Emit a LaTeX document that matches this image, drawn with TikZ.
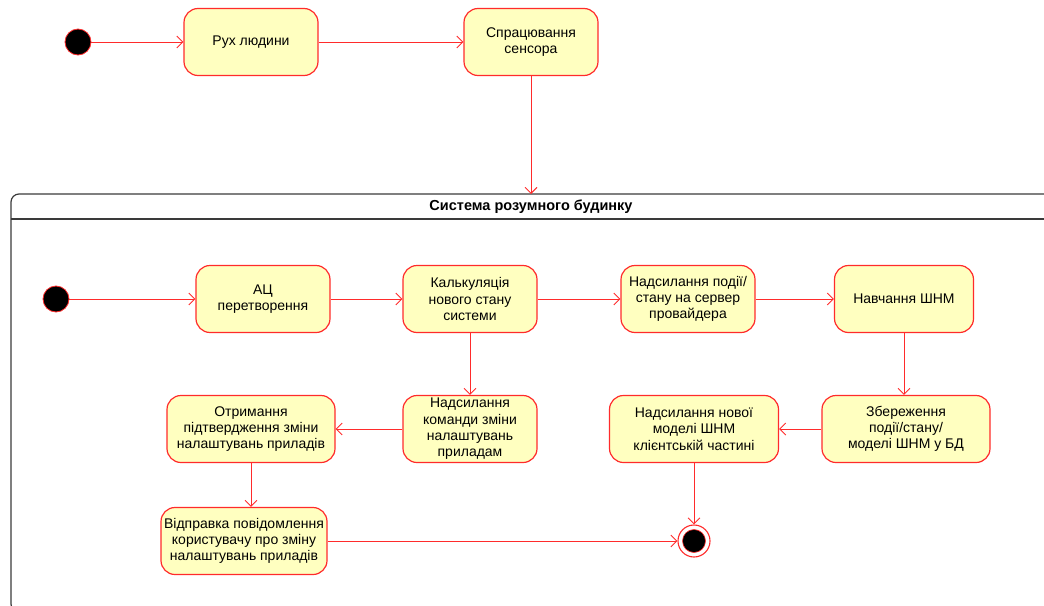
\documentclass[tikz,border=0pt]{standalone}
\usepackage{fontspec}
\setmainfont{Liberation Sans}
\usetikzlibrary{arrows.meta,positioning}
\definecolor{edge}{HTML}{FF2B2B}
\definecolor{paper}{HTML}{FFFFC0}
\definecolor{frame}{HTML}{3A3A3A}

\begin{document}
\begin{tikzpicture}[x=1pt, y=-1pt, >={Straight Barb[length=6pt,width=12pt]},
    font=\fontsize{14}{16.3}\selectfont,
    act/.style={draw=edge, fill=paper, line width=1.2pt, rounded corners=14pt,
      minimum width=134pt, minimum height=67pt, align=center, inner sep=1pt},
    wide/.style={act, minimum width=168pt},
    init/.style={circle, fill=black, draw=edge, line width=0.8pt, minimum size=26pt, inner sep=0pt},
    final/.style={circle, draw=edge, fill=white, line width=1.1pt, minimum size=32pt, inner sep=0pt},
    flow/.style={->, draw=edge, line width=0.9pt}]
  \useasboundingbox (0,0) rectangle (1044,605);
  \begin{scope}
    \clip (0,0) rectangle (1044,605);
    % outer frame of the system
    \draw[frame, line width=1.2pt, rounded corners=8pt] (11,194) rectangle (1070,612);
    \draw[frame, line width=1.2pt] (11,219) -- (1044,219);
  \end{scope}
  \node[font=\fontsize{14.5}{16}\selectfont\bfseries] (title) at (531,207) {Система розумного будинку};
  \coordinate (sys) at (531,194);

  % top row
  \node[init] (s1) at (78,42) {};
  \node[act] (move) at (251,42) {Рух людини};
  \node[act] (sens) at (531,42) {Спрацювання\\сенсора};

  % inside the system
  \node[init] (s2) at (56,299) {};
  \node[act] (adc) at (263,299) {АЦ\\перетворення};
  \node[act] (calc) at (470,299) {Калькуляція\\нового стану\\системи};
  \node[act] (send) at (688,299) {Надсилання події/\\стану на сервер\\провайдера};
  \node[act, minimum width=139pt] (train) at (904,299) {Навчання ШНМ};
  \node[wide] (save) at (906,429) {Збереження\\події/стану/\\моделі ШНМ у БД};
  \node[wide, minimum width=169pt] (model) at (694,429) {Надсилання нової\\моделі ШНМ\\клієнтській частині};
  \node[act] (cmd) at (470,429) {Надсилання\\команди зміни\\налаштувань\\приладам};
  \node[wide] (ack) at (251,429) {Отримання\\підтвердження зміни\\налаштувань приладів};
  \node[wide, minimum width=166pt] (note) at (244,541) {Відправка повідомлення\\користувачу про зміну\\налаштувань приладів};
  \node[final] (end) at (694,541) {};
  \node[circle, fill=black, draw=edge, line width=0.6pt, minimum size=23pt, inner sep=0pt] at (end) {};

  \draw[flow] (s1) -- (move);
  \draw[flow] (move) -- (sens);
  \draw[flow] (sens) -- (sys);
  \draw[flow] (s2) -- (adc);
  \draw[flow] (adc) -- (calc);
  \draw[flow] (calc) -- (send);
  \draw[flow] (send) -- (train);
  \draw[flow] (train) -- (train |- save.north);
  \draw[flow] (save) -- (model);
  \draw[flow] (model) -- (end);
  \draw[flow] (calc) -- (cmd);
  \draw[flow] (cmd) -- (ack);
  \draw[flow] (ack.south) -- (ack.south |- note.north);
  \draw[flow] (note) -- (end);
\end{tikzpicture}
\end{document}
